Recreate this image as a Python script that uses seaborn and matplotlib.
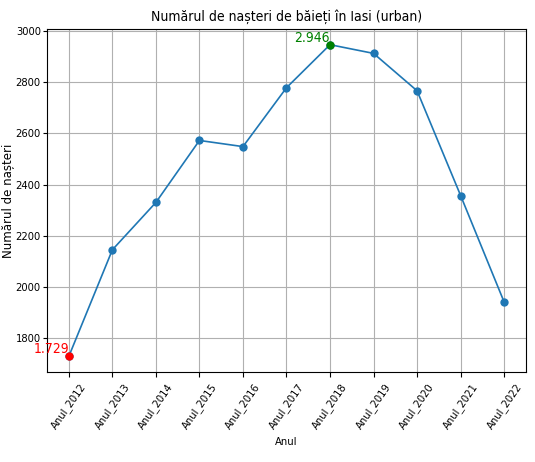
import matplotlib
matplotlib.use("Agg")
import matplotlib.pyplot as plt
import seaborn as sns

ani = ['Anul_2012', 'Anul_2013', 'Anul_2014', 'Anul_2015', 'Anul_2016', 'Anul_2017',
       'Anul_2018', 'Anul_2019', 'Anul_2020', 'Anul_2021', 'Anul_2022']
nasteri = [1729, 2145, 2330, 2572, 2548, 2778, 2946, 2912, 2766, 2357, 1941]

plt.rcParams['font.stretch'] = 'condensed'

fig, ax = plt.subplots(figsize=(5.35, 4.62), dpi=100)
fig.subplots_adjust(left=0.088, right=0.983, top=0.937, bottom=0.195)

x = list(range(len(ani)))
sns.lineplot(x=x, y=nasteri, marker='o', markersize=6, markeredgewidth=0,
             color='#1f77b4', linewidth=1.2, ax=ax)

i_min = nasteri.index(min(nasteri))
i_max = nasteri.index(max(nasteri))
sns.scatterplot(x=[x[i_min]], y=[nasteri[i_min]], color='red', s=36, linewidth=0, ax=ax, zorder=3)
sns.scatterplot(x=[x[i_max]], y=[nasteri[i_max]], color='green', s=36, linewidth=0, ax=ax, zorder=3)

def fmt(v):
    return f"{v:,}".replace(',', '.')

ax.text(x[i_min], nasteri[i_min], fmt(nasteri[i_min]), color='red', ha='right', va='bottom', fontsize=10)
ax.text(x[i_max], nasteri[i_max], fmt(nasteri[i_max]), color='green', ha='right', va='bottom', fontsize=10)

ax.set_xticks(x)
ax.set_xticklabels(ani, rotation=55, fontsize=8)
ax.tick_params(axis='y', labelsize=8, pad=1.5, length=3)
ax.set_yticks([1800, 2000, 2200, 2400, 2600, 2800, 3000])
ax.grid(True)
ax.set_title('Numărul de nașteri de băieți în Iasi (urban)', fontsize=10)
ax.set_xlabel('Anul', fontsize=8)
ax.set_ylabel('Numărul de nașteri', fontsize=8.5, fontstretch='normal')
ax.yaxis.set_label_coords(-0.068, 0.5)

fig.savefig('out.png', dpi=100)
